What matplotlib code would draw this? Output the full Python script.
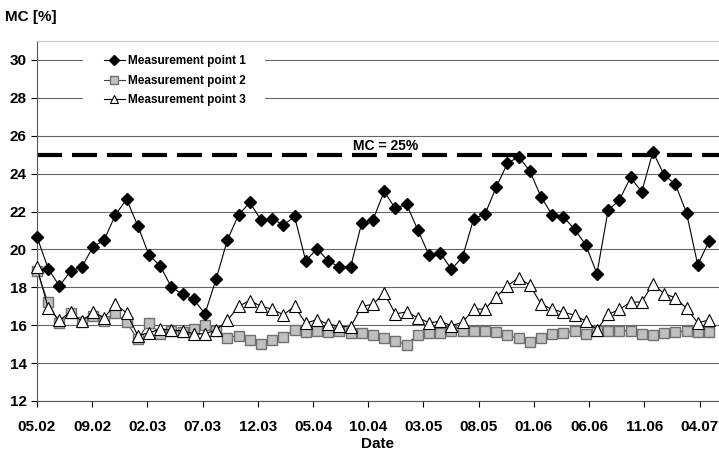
import numpy as np
import matplotlib.pyplot as plt
from matplotlib.patches import Rectangle

# moisture content readings, one value per measuring date
mp1 = [20.66, 18.98, 18.07, 18.86, 19.07, 20.13, 20.50, 21.82, 22.65, 21.24,
       19.71, 19.13, 18.01, 17.63, 17.36, 16.60, 18.45, 20.50, 21.82, 22.48,
       21.56, 21.63, 21.28, 21.74, 19.39, 20.04, 19.39, 19.07, 19.07, 21.40, 21.56,
       23.06, 22.16, 22.39, 21.03, 19.71, 19.83, 18.95, 19.60, 21.63, 21.86,
       23.27, 24.54, 24.89, 24.15, 22.78, 21.82, 21.72, 21.07, 20.24, 18.72,
       22.07, 22.60, 23.80, 23.04, 25.15, 23.93, 23.44, 21.93, 19.19, 20.42]
mp2 = [18.86, 17.20, 16.10, 16.65, 16.15, 16.50, 16.20, 16.65, 16.15, 15.25,
       16.13, 15.55, 15.70, 15.65, 15.80, 16.00, 15.70, 15.35, 15.45, 15.20,
       15.00, 15.20, 15.40, 15.75, 15.65, 15.70, 15.65, 15.70, 15.60, 15.60, 15.50,
       15.33, 15.16, 14.98, 15.50, 15.60, 15.60, 15.69, 15.72, 15.72, 15.72,
       15.65, 15.47, 15.30, 15.10, 15.30, 15.55, 15.60, 15.69, 15.56, 15.72,
       15.72, 15.72, 15.69, 15.55, 15.50, 15.60, 15.65, 15.69, 15.65, 15.65]
mp3 = [19.05, 16.90, 16.25, 16.70, 16.20, 16.70, 16.40, 17.10, 16.65, 15.45,
       15.60, 15.80, 15.75, 15.70, 15.55, 15.55, 15.75, 16.25, 17.00, 17.30,
       17.00, 16.85, 16.55, 17.00, 16.10, 16.30, 16.05, 15.95, 15.90, 17.00, 17.10,
       17.70, 16.60, 16.70, 16.40, 16.13, 16.20, 15.98, 16.15, 16.85, 16.85,
       17.49, 18.07, 18.51, 18.12, 17.13, 16.83, 16.69, 16.53, 16.22, 15.77,
       16.57, 16.83, 17.22, 17.22, 18.19, 17.66, 17.45, 16.89, 16.13, 16.27]

date_labels = ['05.02', '09.02', '02.03', '07.03', '12.03', '05.04', '10.04',
               '03.05', '08.05', '01.06', '06.06', '11.06', '04.07']
mc_limit = 25

plt.rcParams['font.family'] = ['Liberation Sans', 'DejaVu Sans']
plt.rcParams['font.weight'] = 'bold'

fig = plt.figure(figsize=(7.19, 4.57), dpi=100)
ax = fig.add_axes([37/719, 56/457, 682/719, 360/457])

x = np.arange(len(mp1))
ax.plot(x, mp1, color='black', lw=0.8, marker='D', ms=6.5, mfc='black', mec='black',
        label='Measurement point 1', zorder=5, clip_on=False)
ax.plot(x, mp2, color='#404040', lw=0.8, marker='s', ms=7, mfc='#c0c0c0', mec='#707070',
        label='Measurement point 2', zorder=3, clip_on=False)
ax.plot(x, mp3, color='black', lw=0.8, marker='^', ms=8, mfc='white', mec='black',
        mew=0.8, label='Measurement point 3', zorder=4, clip_on=False)

ax.axhline(mc_limit, color='black', lw=3, dashes=(6, 2.4), zorder=2)
ax.text(31.15, mc_limit + 0.1, 'MC = 25%', ha='center', va='bottom', fontsize=10,
        fontweight='bold')

ax.set_ylim(12, 31)
ax.set_yticks(np.arange(12, 31, 2))
ax.set_xlim(0, 60.9)
# the date labels sit a little tighter than every 5th reading
ax.set_xticks(np.arange(len(date_labels)) * 4.93)
ax.set_xticklabels(date_labels)
ax.tick_params(axis='both', labelsize=11, direction='out', length=4, width=0.8,
               colors='black')
ax.tick_params(axis='x', pad=10)

ax.grid(axis='y', color='#666666', lw=0.8)
ax.set_axisbelow(True)
ax.spines['right'].set_visible(False)
ax.spines['top'].set_color('#c8c8c8')
ax.spines['left'].set_color('#555555')
ax.spines['bottom'].set_color('#555555')

ax.set_xlabel('Date', fontsize=11, fontweight='bold', labelpad=2)
fig.text(5/719, 1 - 17/457, 'MC [%]', fontsize=11, fontweight='bold', va='center')

# white patch behind the legend that breaks the grid lines
ax.add_patch(Rectangle((83/719, 1 - 112/457), 182/719, 68/457, transform=fig.transFigure,
                       facecolor='white', edgecolor='none', zorder=1))

leg = ax.legend(loc='upper left', bbox_to_anchor=(104/719, 1 - 55/457),
                bbox_transform=fig.transFigure, fontsize=8.5, frameon=False,
                handlelength=1.75, handletextpad=0.25, labelspacing=0.65,
                borderpad=0, borderaxespad=0)
leg.set_zorder(6)
for t in leg.get_texts():
    t.set_fontweight('bold')
for h in leg.legend_handles:
    h.set_markersize(5.5)

fig.savefig('out.png', dpi=100)
